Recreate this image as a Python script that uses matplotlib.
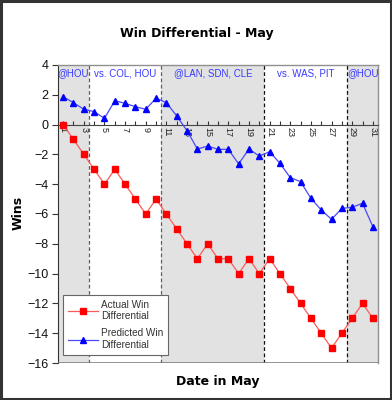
import matplotlib
matplotlib.use("Agg")
import matplotlib.pyplot as plt
from matplotlib.patches import Rectangle

days = list(range(1, 32))
actual = [0, -1, -2, -3, -4, -3, -4, -5, -6, -5, -6, -7, -8, -9, -8, -9, -9, -10, -9, -10,
          -9, -10, -11, -12, -13, -14, -15, -14, -13, -12, -13]
predicted = [1.87, 1.47, 1.03, 0.87, 0.42, 1.6, 1.43, 1.2, 1.03, 1.77, 1.47, 0.58, -0.41, -1.64,
             -1.44, -1.66, -1.66, -2.64, -1.64, -2.11, -1.82, -2.6, -3.56, -3.83, -4.95, -5.73,
             -6.36, -5.62, -5.55, -5.28, -6.85]
segments = [(0.5, 3.5, "@HOU", True), (3.5, 10.5, "vs. COL, HOU", False),
            (10.5, 20.5, "@LAN, SDN, CLE", True), (20.5, 28.5, "vs. WAS, PIT", False),
            (28.5, 31.5, "@HOU", True)]
dividers = [3.5, 10.5, 20.5, 28.5]
divider_colors = ["#606060", "#606060", "#111111", "#111111"]

plt.rcParams['font.family'] = ['Liberation Sans', 'DejaVu Sans']
fig = plt.figure(figsize=(3.92, 4.0), dpi=100)
fig.patch.set_facecolor("white")
fig.patches.append(Rectangle((0.002, 0.002), 0.995, 0.995, transform=fig.transFigure,
                             fill=False, edgecolor="#333333", linewidth=2.2))

W, H = 392, 400
left, right, top, bottom = 58, 378, 65, 363
ax = fig.add_axes([left / W, 1 - bottom / H, (right - left) / W, (bottom - top) / H])
ax.set_xlim(0.5, 31.5)
ax.set_ylim(-16, 4)

for (a, b, lab, shaded) in segments:
    if shaded:
        ax.axvspan(a, b, color="#E2E2E2", zorder=0, lw=0)
    ax.text((a + b) / 2, 3.45, lab, ha="center", va="center", color="#3a3aff",
            fontsize=7, zorder=5)
for x, c in zip(dividers, divider_colors):
    ax.axvline(x, color=c, linestyle=(0, (3, 2)), linewidth=0.9, zorder=1)

ax.plot(days, actual, color="#ff5a5a", linewidth=0.9, marker="s", markersize=4.0,
        markerfacecolor="#ff0000", markeredgecolor="#ff0000", zorder=4,
        label="Actual Win\nDifferential")
ax.plot(days, predicted, color="#4848ff", linewidth=0.9, marker="^", markersize=5.0,
        markerfacecolor="#0000ff", markeredgecolor="#0000ff", zorder=4,
        label="Predicted Win\nDifferential")

ax.spines['bottom'].set_position(('data', 0))
ax.spines['bottom'].set_color("#444444")
ax.spines['bottom'].set_linewidth(0.8)
ax.axhline(-16, color="#808080", linewidth=1.2, zorder=3)
for s in ['top', 'right']:
    ax.spines[s].set_color("#909090")
    ax.spines[s].set_linewidth(1.0)
ax.spines['left'].set_color("#333333")
ax.spines['left'].set_linewidth(0.8)

ax.set_xticks(days)
ax.set_xticklabels([str(d) if d % 2 == 1 else "" for d in days], rotation=270,
                   fontsize=6.5, color="#222222")
ax.tick_params(axis='x', direction='in', length=3, width=0.8, pad=2, color="#333333")
ax.set_yticks(range(-16, 5, 2))
ax.tick_params(axis='y', direction='out', length=4, width=0.8, labelsize=9,
               color="#333333", labelcolor="#111111", pad=3)

fig.text(197 / W, 1 - 33 / H, "Win Differential - May", ha="center", va="center",
         fontsize=9, fontweight="bold", family="DejaVu Sans")
fig.text(218 / W, 1 - 381 / H, "Date in May", ha="center", va="center",
         fontsize=9, fontweight="bold", family="DejaVu Sans")
fig.text(18 / W, 1 - 213 / H, "Wins", ha="center", va="center", rotation=90,
         fontsize=9, fontweight="bold", family="DejaVu Sans")

leg = ax.legend(loc="lower left", bbox_to_anchor=(0.0, 0.01), fontsize=7.2,
                frameon=True, fancybox=False, edgecolor="#666666", framealpha=1,
                handlelength=3.0, borderpad=0.5, labelspacing=0.7, handletextpad=0.3)
leg.get_frame().set_linewidth(0.8)
for t in leg.get_texts():
    t.set_color("#333333")

fig.savefig("out.png", dpi=100)
